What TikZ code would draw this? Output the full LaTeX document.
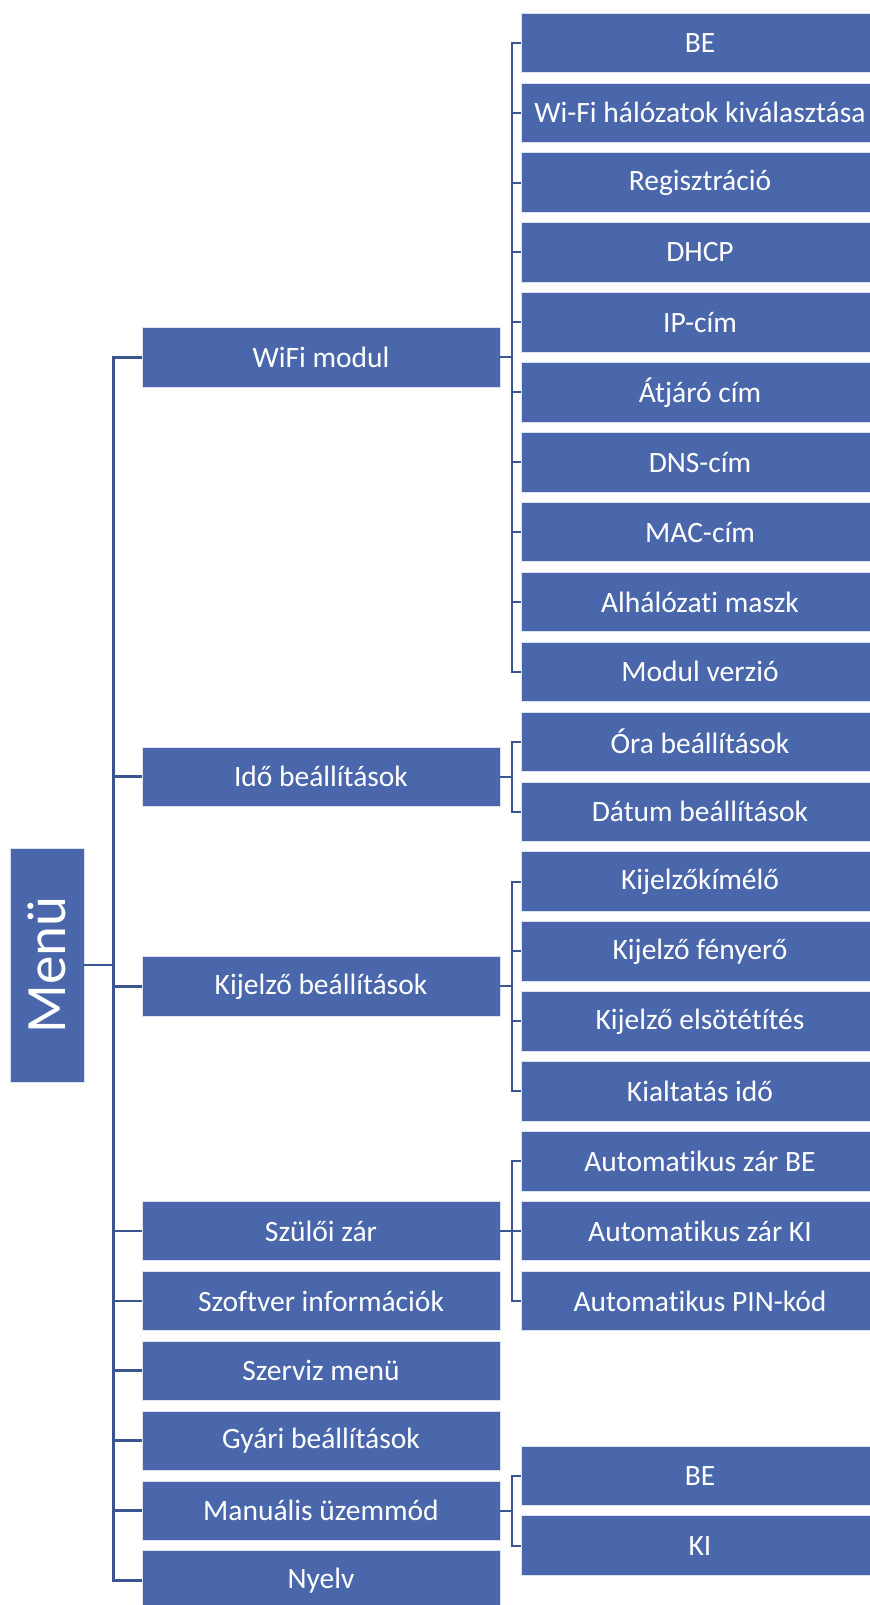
\documentclass[tikz,border=0pt]{standalone}
\usepackage{fontspec}
\setmainfont{Carlito}[Ligatures=NoCommon]
\usepackage{xcolor}
\definecolor{boxblue}{RGB}{74,103,172}
\definecolor{linkblue}{RGB}{59,84,145}
\tikzset{
  item/.style={fill=boxblue, draw=white!80!boxblue, line width=0.4pt, text=white,
    minimum width=179pt, minimum height=29.75pt, inner sep=0pt,
    font=\fontsize{14.75}{17}\selectfont},
  link/.style={draw=linkblue, line width=1pt},
  mainlink/.style={draw=linkblue, line width=1.4pt}
}

\begin{document}
\begin{tikzpicture}[x=0.5pt,y=-34.95pt]
\clip (0,-0.6116) rectangle (870,22.35);
\node [item, rotate=90, minimum width=117pt, minimum height=37pt, font=\fontsize{28.5}{30}\selectfont] (menu) at (47,13.194) {Menü};
\node [item] (wifi) at (321,4.5) {WiFi modul};
\node [item] (ido) at (321,10.5) {Idő beállítások};
\node [item] (kijelzo) at (321,13.5) {Kijelző beállítások};
\node [item] (szuloi) at (321,17) {Szülői zár};
\node [item] (szoftver) at (321,18) {Szoftver információk};
\node [item] (szerviz) at (321,19) {Szerviz menü};
\node [item] (gyari) at (321,20) {Gyári beállítások};
\node [item] (manualis) at (321,21) {Manuális üzemmód};
\node [item] (nyelv) at (321,22) {Nyelv};
\node [item] (be) at (700,0) {BE};
\node [item] (wifihalo) at (700,1) {Wi-Fi hálózatok kiválasztása};
\node [item] (regisztracio) at (700,2) {Regisztráció};
\node [item] (dhcp) at (700,3) {DHCP};
\node [item] (ipcim) at (700,4) {IP-cím};
\node [item] (atjaro) at (700,5) {Átjáró cím};
\node [item] (dnscim) at (700,6) {DNS-cím};
\node [item] (maccim) at (700,7) {MAC-cím};
\node [item] (alhalozati) at (700,8) {Alhálózati maszk};
\node [item] (modulverzio) at (700,9) {Modul verzió};
\node [item] (ora) at (700,10) {Óra beállítások};
\node [item] (datum) at (700,11) {Dátum beállítások};
\node [item] (kimelo) at (700,12) {Kijelzőkímélő};
\node [item] (fenyero) at (700,13) {Kijelző fényerő};
\node [item] (elsotetites) at (700,14) {Kijelző elsötétítés};
\node [item] (kialtatas) at (700,15) {Kialtatás idő};
\node [item] (autobe) at (700,16) {Automatikus zár BE};
\node [item] (autoki) at (700,17) {Automatikus zár KI};
\node [item] (autopin) at (700,18) {Automatikus PIN-kód};
\node [item] (manbe) at (700,20.5) {BE};
\node [item] (manki) at (700,21.5) {KI};
\draw [mainlink] (menu.south) -- ++(29,0) |- (wifi.west);
\draw [mainlink] (menu.south) -- ++(29,0) |- (ido.west);
\draw [mainlink] (menu.south) -- ++(29,0) |- (kijelzo.west);
\draw [mainlink] (menu.south) -- ++(29,0) |- (szuloi.west);
\draw [mainlink] (menu.south) -- ++(29,0) |- (szoftver.west);
\draw [mainlink] (menu.south) -- ++(29,0) |- (szerviz.west);
\draw [mainlink] (menu.south) -- ++(29,0) |- (gyari.west);
\draw [mainlink] (menu.south) -- ++(29,0) |- (manualis.west);
\draw [mainlink] (menu.south) -- ++(29,0) |- (nyelv.west);
\draw [link] (wifi.east) -- ++(12,0) |- (be.west);
\draw [link] (wifi.east) -- ++(12,0) |- (wifihalo.west);
\draw [link] (wifi.east) -- ++(12,0) |- (regisztracio.west);
\draw [link] (wifi.east) -- ++(12,0) |- (dhcp.west);
\draw [link] (wifi.east) -- ++(12,0) |- (ipcim.west);
\draw [link] (wifi.east) -- ++(12,0) |- (atjaro.west);
\draw [link] (wifi.east) -- ++(12,0) |- (dnscim.west);
\draw [link] (wifi.east) -- ++(12,0) |- (maccim.west);
\draw [link] (wifi.east) -- ++(12,0) |- (alhalozati.west);
\draw [link] (wifi.east) -- ++(12,0) |- (modulverzio.west);
\draw [link] (ido.east) -- ++(12,0) |- (ora.west);
\draw [link] (ido.east) -- ++(12,0) |- (datum.west);
\draw [link] (kijelzo.east) -- ++(12,0) |- (kimelo.west);
\draw [link] (kijelzo.east) -- ++(12,0) |- (fenyero.west);
\draw [link] (kijelzo.east) -- ++(12,0) |- (elsotetites.west);
\draw [link] (kijelzo.east) -- ++(12,0) |- (kialtatas.west);
\draw [link] (szuloi.east) -- ++(12,0) |- (autobe.west);
\draw [link] (szuloi.east) -- ++(12,0) |- (autoki.west);
\draw [link] (szuloi.east) -- ++(12,0) |- (autopin.west);
\draw [link] (manualis.east) -- ++(12,0) |- (manbe.west);
\draw [link] (manualis.east) -- ++(12,0) |- (manki.west);
\end{tikzpicture}
\end{document}
